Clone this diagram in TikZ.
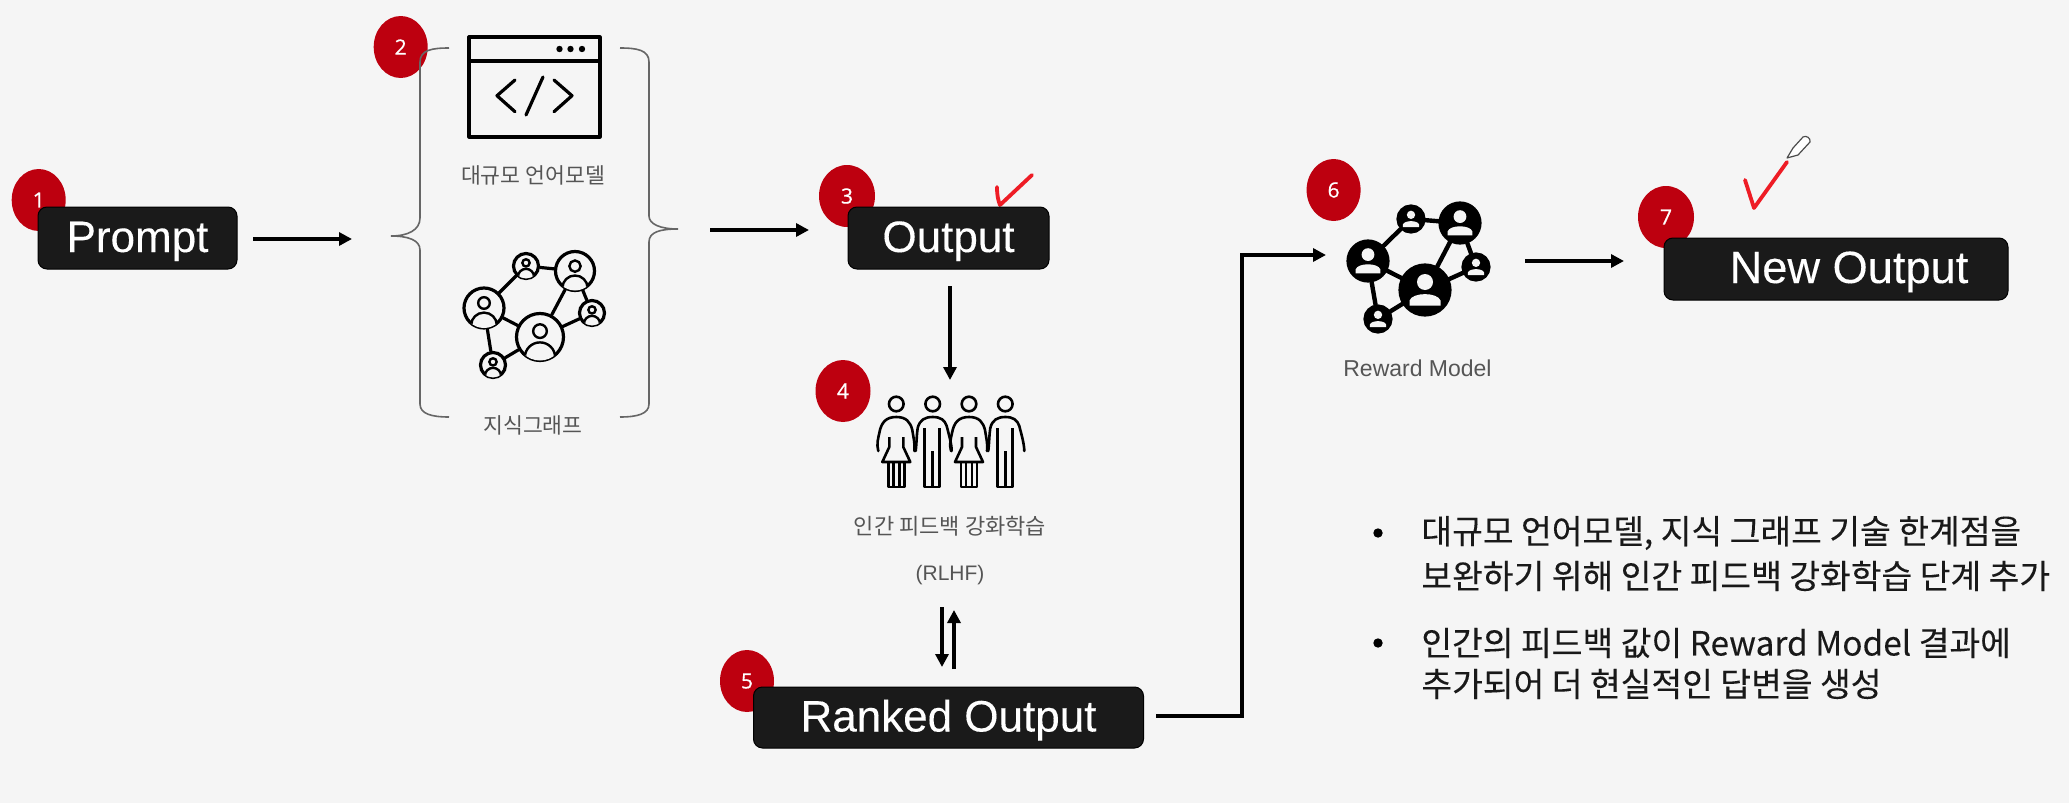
\documentclass[tikz,border=0pt]{standalone}
\usepackage{fontspec}
\setmainfont{Liberation Sans}
\newfontfamily\krfont{Noto Sans CJK KR}
\newfontfamily\krbold[FakeBold=0.15]{Noto Sans CJK KR}
\newfontfamily\boxfont[FakeBold=0.25]{Liberation Sans}
\newfontfamily\digitfont[FakeBold=0.7]{Open Sans}
\usetikzlibrary{shapes.geometric,arrows.meta}
\definecolor{bgc}{HTML}{F5F5F5}
\definecolor{boxc}{HTML}{1A1A1A}
\definecolor{badge}{HTML}{BD000F}
\definecolor{lab}{HTML}{555555}
\definecolor{chk}{HTML}{EE1C25}
\tikzset{
  x=0.5pt,y=-0.5pt,
  darkbox/.style={draw=black,line width=0.5pt,fill=boxc,text=white,rounded corners=4.5pt,inner sep=0pt,text height=18pt,text depth=4pt,font=\boxfont\fontsize{22}{26}\selectfont},
  badgenode/.style={ellipse,fill=badge,text=white,inner sep=0pt,font=\digitfont\fontsize{10.5}{12}\selectfont},
  arr/.style={draw=black,line width=2pt,-{Triangle[length=6.5pt,width=6.5pt]}},
  bracel/.style={draw=lab!90,line width=0.8pt},
  iconl/.style={draw=black,line width=1.6pt,line cap=round,line join=round},
  thinicon/.style={draw=black,line width=1.3pt,line join=round},
  labeltext/.style={text=lab,inner sep=0pt,font=\krfont\fontsize{10.8}{13}\selectfont},
  bullettext/.style={text=black!90,inner sep=0pt,anchor=west,font=\krbold\fontsize{16.7}{20}\selectfont},
  netnode/.style={circle,draw=black,line width=1.6pt,fill=bgc,inner sep=0pt},
  rewnode/.style={circle,draw=black,line width=1.6pt,fill=black,inner sep=0pt},
  chkl/.style={draw=chk,line width=1.9pt,line cap=round,line join=round},
}
% outlined bust clipped to a network circle: x, y, radius
\newcommand{\bust}[3]{%
  \begin{scope}
    \path[clip] (#1,#2) circle[radius=#3];
    \draw[draw=black,line width=1.2pt,fill=bgc] (#1,#2+0.85*#3) ellipse[x radius=0.64*#3,y radius=0.62*#3];
    \draw[draw=black,line width=1.2pt,fill=bgc] (#1,#2-0.25*#3) circle[radius=0.29*#3];
  \end{scope}}
% white bust on a black network circle: x, y, radius
\newcommand{\bustfill}[3]{%
  \fill[bgc] (#1,#2-0.32*#3) circle[radius=0.32*#3];
  \fill[bgc] (#1-0.62*#3,#2+0.62*#3) -- (#1-0.62*#3,#2+0.42*#3) .. controls (#1-0.5*#3,#2+0.08*#3) and (#1+0.5*#3,#2+0.08*#3) .. (#1+0.62*#3,#2+0.42*#3) -- (#1+0.62*#3,#2+0.62*#3) -- cycle;}
\newcommand{\woman}[2]{%
  \begin{scope}[shift={(#1,#2)}]
    \draw[thinicon] (0,0) circle[radius=7.3];
    \draw[thinicon,line cap=round] (-18,47) .. controls (-20,40) and (-18,34) .. (-17,29) .. controls (-15,18) and (-10,13) .. (0,13) .. controls (10,13) and (14,18) .. (16,26) .. controls (17,33) and (19,40) .. (18,47);
    \draw[thinicon] (-7,33) -- (-7,43) -- (-14,58) -- (14,58) -- (7,43) -- (7,33);
    \draw[thinicon] (-8,58) -- (-8,83) -- (8,83) -- (8,58) (-3,58) -- (-3,83) (3,58) -- (3,83);
  \end{scope}}
\newcommand{\man}[2]{%
  \begin{scope}[shift={(#1,#2)}]
    \draw[thinicon] (0,0) circle[radius=7.3];
    \draw[thinicon,line cap=round] (-17,47) .. controls (-16,38) and (-16,30) .. (-15,24) .. controls (-13,16) and (-8,13) .. (0,13) .. controls (8,13) and (12,16) .. (14,22) .. controls (16,30) and (19,40) .. (19,47);
    \draw[thinicon] (-8,24) -- (-8,83) -- (7,83) -- (7,24) (0,47) -- (0,83);
  \end{scope}}
\begin{document}
\begin{tikzpicture}
\useasboundingbox (0,0) rectangle (2069,803);
\fill[bgc] (0,0) rectangle (2069,803);

% badges
\node[badgenode,minimum width=27pt,minimum height=31pt] (b1) at (38.7,200) {1};
\node[badgenode,minimum width=27pt,minimum height=31pt] (b2) at (400.7,47) {2};
\node[badgenode,minimum width=28pt,minimum height=31pt] (b3) at (847,196) {3};
\node[badgenode,minimum width=27.5pt,minimum height=31pt] (b4) at (843,391) {4};
\node[badgenode,minimum width=27pt,minimum height=31pt] (b5) at (747,681) {5};
\node[badgenode,minimum width=27pt,minimum height=31pt] (b6) at (1333.6,190) {6};
\node[badgenode,minimum width=28pt,minimum height=31pt] (b7) at (1666,217) {7};

% red ticks
\draw[chkl] (997,187) .. controls (997,195) and (998,200) .. (1000,205) -- (1032,175);
\draw[chkl] (1745,180) -- (1754,208) -- (1787,162);

% pencil
\draw[draw=black!70,fill=white,line width=0.6pt,line join=round] (1787,158) -- (1793,148) -- (1803,137) .. controls (1806,135) and (1811,138) .. (1810,142) -- (1798,155) -- cycle;

% boxes
\node[darkbox,minimum width=99.5pt,minimum height=31pt] (prompt) at (137.5,238) {Prompt};
\node[darkbox,minimum width=100.5pt,minimum height=31pt] (output) at (948.5,238) {Output};
\node[darkbox,minimum width=195pt,minimum height=30.5pt] (ranked) at (948.5,717.5) {Ranked Output};
\node[darkbox,minimum width=172pt,minimum height=31pt,font=\boxfont\fontsize{22.6}{26}\selectfont] (newout) at (1836,269) {\hspace{13pt}New Output};

% braces
\draw[bracel] (449,48) .. controls (432,48) and (420,50) .. (420,62) -- (420,218) .. controls (420,230) and (408,236) .. (391,236) .. controls (408,236) and (420,240) .. (420,250) -- (420,404) .. controls (420,414) and (432,417) .. (449,417);
\draw[bracel] (620,48) .. controls (637,48) and (649,50) .. (649,62) -- (649,216) .. controls (649,224) and (660,229) .. (678,229) .. controls (660,229) and (649,232) .. (649,242) -- (649,404) .. controls (649,414) and (637,417) .. (620,417);

% window icon
\draw[iconl,line cap=butt] (469,37) rectangle (600,137);
\draw[iconl,line cap=butt] (469,61) -- (600,61);
\fill (559.5,49) circle[radius=3.2] (570.5,49) circle[radius=3.2] (582,49) circle[radius=3.2];
\draw[iconl] (515,80) -- (497,95.7) -- (515,111.7);
\draw[iconl] (543,77) -- (526,115);
\draw[iconl] (554,80) -- (572,95.7) -- (554,111.7);
\node[labeltext] (llm) at (533,175) {대규모 언어모델};

% knowledge graph icon
\node[netnode,minimum size=20pt] (ka) at (484,308) {};
\node[netnode,minimum size=12.5pt] (kb) at (526,266) {};
\node[netnode,minimum size=19.5pt] (kc) at (575,271) {};
\node[netnode,minimum size=12.5pt] (kd) at (592,313) {};
\node[netnode,minimum size=23.5pt] (ke) at (540,337) {};
\node[netnode,minimum size=12.5pt] (kf) at (493,365) {};
\draw[iconl] (ka)--(kb) (kb)--(kc) (kc)--(kd) (kc)--(ke) (kd)--(ke) (ka)--(ke) (ka)--(kf) (ke)--(kf);
\bust{484}{308}{20}
\bust{526}{266}{12.5}
\bust{575}{271}{19.5}
\bust{592}{313}{12.5}
\bust{540}{337}{23.5}
\bust{493}{365}{12.5}
\node[labeltext] (kg) at (533,425) {지식그래프};

% people icon
\woman{896.3}{404}
\man{932.7}{404}
\woman{969}{404}
\man{1005.3}{404}
\node[labeltext,font=\krfont\fontsize{11}{13}\selectfont] (rl1) at (950,526) {인간 피드백 강화학습};
\node[labeltext,font=\fontsize{10.5}{13}\selectfont] (rl2) at (950,575) {(RLHF)};

% reward graph icon
\node[rewnode,minimum size=20pt] (ra) at (1368,261) {};
\node[rewnode,minimum size=13pt] (rb) at (1411,219) {};
\node[rewnode,minimum size=20pt] (rc) at (1460,223) {};
\node[rewnode,minimum size=13pt] (rd) at (1476,267) {};
\node[rewnode,minimum size=25pt] (re) at (1425,290) {};
\node[rewnode,minimum size=13pt] (rf) at (1378,319) {};
\draw[iconl,line width=2.2pt] (ra)--(rb) (rb)--(rc) (rc)--(rd) (rc)--(re) (rd)--(re) (ra)--(re) (ra)--(rf) (re)--(rf);
\bustfill{1368}{261}{20}
\bustfill{1411}{219}{13}
\bustfill{1460}{223}{20}
\bustfill{1476}{267}{13}
\bustfill{1425}{290}{25}
\bustfill{1378}{319}{13}
\node[labeltext,font=\fontsize{11.5}{13}\selectfont] (rew) at (1417.5,368) {Reward Model};

% free arrow ends
\coordinate (a1s) at (253,239); \coordinate (a1e) at (352,239);
\coordinate (a2s) at (710,230); \coordinate (a2e) at (809,230);
\coordinate (a3s) at (950,286); \coordinate (a3e) at (950,380);
\coordinate (a4s) at (942,607); \coordinate (a4e) at (942,667);
\coordinate (a5s) at (954,669); \coordinate (a5e) at (954,610);
\coordinate (a6s) at (1156,716); \coordinate (a6m) at (1242,716); \coordinate (a6n) at (1242,255); \coordinate (a6e) at (1326,255);
\coordinate (a7s) at (1525,261); \coordinate (a7e) at (1624,261);
\draw[arr] (a1s) -- (a1e);
\draw[arr] (a2s) -- (a2e);
\draw[arr] (a3s) -- (a3e);
\draw[arr] (a4s) -- (a4e);
\draw[arr] (a5s) -- (a5e);
\draw[arr,line join=miter] (a6s) -- (a6m) -- (a6n) -- (a6e);
\draw[arr] (a7s) -- (a7e);

% notes
\fill[black] (1378,533) circle[radius=4.7];
\fill[black] (1378,643) circle[radius=4.7];
\node[bullettext] (n1) at (1421,533) {대규모 언어모델, 지식 그래프 기술 한계점을};
\node[bullettext] (n2) at (1421,576) {보완하기 위해 인간 피드백 강화학습 단계 추가};
\node[bullettext] (n3) at (1421,643) {인간의 피드백 값이 Reward Model 결과에};
\node[bullettext] (n4) at (1421,684) {추가되어 더 현실적인 답변을 생성};
\end{tikzpicture}
\end{document}
